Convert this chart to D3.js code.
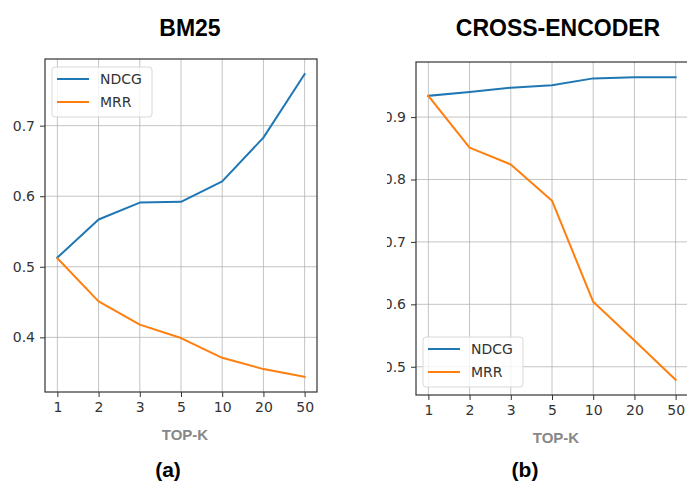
<!DOCTYPE html>
<html>
<head>
<meta charset="utf-8">
<script src="https://cdn.jsdelivr.net/npm/d3@7"></script>
<style>
  html, body { margin: 0; padding: 0; background: #fff; }
  svg { display: block; }
</style>
</head>
<body>
<svg id="chart" width="687" height="482"></svg>
<script>
// Retrieval quality versus the number of retrieved passages (top-k)
const topK = ["1", "2", "3", "5", "10", "20", "50"];
const seriesNames = ["NDCG", "MRR"];
const seriesColors = ["#1f77b4", "#ff7f0e"];

const bm25Ndcg = [0.513, 0.567, 0.591, 0.592, 0.621, 0.683, 0.773];
const bm25Mrr  = [0.512, 0.451, 0.418, 0.399, 0.371, 0.355, 0.344];
const bm25Ticks = [0.4, 0.5, 0.6, 0.7];

const ceNdcg = [0.934, 0.940, 0.947, 0.951, 0.962, 0.964, 0.964];
const ceMrr  = [0.934, 0.851, 0.824, 0.766, 0.604, 0.542, 0.479];
const ceTicks = [0.5, 0.6, 0.7, 0.8, 0.9];

const svg = d3.select("#chart");
const tickFont = "'DejaVu Sans', sans-serif";
const titleFont = "'Liberation Sans', Arial, sans-serif";

// The second panel is cropped on its left side
svg.append("defs").append("clipPath").attr("id", "rightClip")
  .append("rect").attr("x", 387).attr("y", 0).attr("width", 300).attr("height", 482);

function drawPanel(cfg) {
  const { box, title, titleX, caption, series, ticks, legendPos, clip } = cfg;
  const g = svg.append("g");
  if (clip) g.attr("clip-path", "url(#rightClip)");

  const x = d3.scalePoint().domain(topK).range([box.left, box.right]).padding(0.3);
  const all = series.flat();
  const [lo, hi] = d3.extent(all);
  const pad = (hi - lo) * 0.05;
  const y = d3.scaleLinear().domain([lo - pad, hi + pad]).range([box.bottom, box.top]);

  // grid
  const grid = g.append("g").attr("stroke", "#b0b0b0").attr("stroke-opacity", 0.75).attr("stroke-width", 1);
  grid.selectAll(".gx").data(topK).join("line")
    .attr("x1", d => x(d)).attr("x2", d => x(d))
    .attr("y1", box.top).attr("y2", box.bottom);
  grid.selectAll(".gy").data(ticks).join("line")
    .attr("x1", box.left).attr("x2", box.right)
    .attr("y1", d => y(d)).attr("y2", d => y(d));

  // axes
  const xAxis = d3.axisBottom(x).tickSize(5).tickPadding(5);
  const yAxis = d3.axisLeft(y).tickValues(ticks).tickFormat(d3.format(".1f")).tickSize(5).tickPadding(5);
  const gx = g.append("g").attr("transform", `translate(0,${box.bottom})`).call(xAxis);
  const gy = g.append("g").attr("transform", `translate(${box.left},0)`).call(yAxis);
  [gx, gy].forEach(a => {
    a.select(".domain").remove();
    a.selectAll(".tick line").attr("stroke", "#333").attr("stroke-width", 1);
    a.selectAll(".tick text").attr("fill", "#333").style("font-family", tickFont).style("font-size", "14px");
  });

  // lines
  const line = d3.line().x((d, i) => x(topK[i])).y(d => y(d));
  series.forEach((s, k) => {
    g.append("path").datum(s).attr("d", line)
      .attr("fill", "none").attr("stroke", seriesColors[k])
      .attr("stroke-width", 2).attr("stroke-linejoin", "round").attr("stroke-linecap", "square");
  });

  // frame
  g.append("rect")
    .attr("x", box.left).attr("y", box.top)
    .attr("width", box.right - box.left).attr("height", box.bottom - box.top)
    .attr("fill", "none").attr("stroke", "#333").attr("stroke-width", 1.2);

  // legend
  const lg = g.append("g").attr("transform", `translate(${legendPos[0]},${legendPos[1]})`);
  lg.append("rect").attr("width", 100).attr("height", 50).attr("rx", 3)
    .attr("fill", "#fff").attr("fill-opacity", 0.8).attr("stroke", "#d8d8d8");
  seriesNames.forEach((name, k) => {
    const yy = 12 + k * 23;
    lg.append("line").attr("x1", 5).attr("x2", 37).attr("y1", yy).attr("y2", yy)
      .attr("stroke", seriesColors[k]).attr("stroke-width", 2);
    lg.append("text").attr("x", 48).attr("y", yy).attr("dy", "0.36em")
      .attr("fill", "#333").style("font-family", tickFont).style("font-size", "14px").text(name);
  });

  // titles and labels
  svg.append("text").attr("x", titleX).attr("y", 36).attr("text-anchor", "middle")
    .style("font-family", titleFont).style("font-weight", "bold").style("font-size", "23px")
    .attr("fill", "#000").text(title);
  svg.append("text").attr("x", (box.left + box.right) / 2 + 4).attr("y", box.bottom + 48)
    .attr("text-anchor", "middle").attr("fill", "#888")
    .style("font-family", titleFont).style("font-weight", "bold").style("font-size", "15px").text("TOP-K");
  svg.append("text").attr("x", caption[0]).attr("y", caption[1]).attr("text-anchor", "middle")
    .style("font-family", titleFont).style("font-weight", "bold").style("font-size", "21px")
    .attr("fill", "#000").text(caption[2]);
}

drawPanel({
  box: { left: 45, right: 317, top: 59, bottom: 392 },
  title: "BM25", titleX: 190,
  caption: [168, 477, "(a)"],
  series: [bm25Ndcg, bm25Mrr],
  ticks: bm25Ticks,
  legendPos: [52, 67],
  clip: false
});

drawPanel({
  box: { left: 416, right: 688, top: 62, bottom: 395 },
  title: "CROSS-ENCODER", titleX: 558,
  caption: [525, 477, "(b)"],
  series: [ceNdcg, ceMrr],
  ticks: ceTicks,
  legendPos: [423, 337],
  clip: true
});
</script>
</body>
</html>
